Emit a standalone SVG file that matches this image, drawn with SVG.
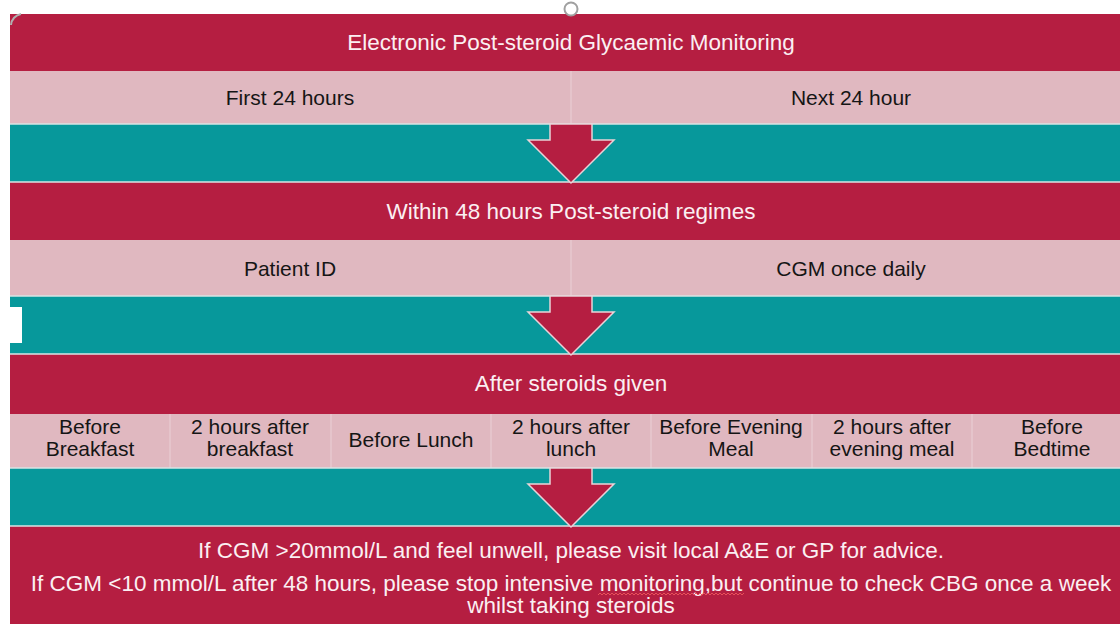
<svg xmlns="http://www.w3.org/2000/svg" width="1120" height="624" viewBox="0 0 1120 624">
  <style>
    .red { fill: #B51E41; }
    .pink { fill: #E0B8C0; }
    .teal { fill: #07989B; }
    .div { stroke: #EAD0D6; stroke-width: 1; }
    .sep { stroke: #D9E4E4; stroke-width: 1.5; }
    .wt { font-family: "Liberation Sans", Arial, sans-serif; font-size: 22.5px; fill: #FBEFF2; text-anchor: middle; }
    .bt { font-family: "Liberation Sans", Arial, sans-serif; font-size: 21px; fill: #151515; text-anchor: middle; }
    .arrow { fill: #B51E41; stroke: #E9D3D8; stroke-width: 1.5; stroke-linejoin: miter; }
  </style>
  <defs>
    <path id="arrowShape" d="M-21,0 L21,0 L21,16 L43,16 L0,59 L-43,16 L-21,16 Z"/>
  </defs>
  <rect x="0" y="0" width="1120" height="624" fill="#FFFFFF"/>

  <g id="title">
    <rect class="red" x="10" y="14" width="1110" height="57"/>
    <text class="wt" x="571" y="50">Electronic Post-steroid Glycaemic Monitoring</text>
  </g>
  <g id="first24">
    <rect class="pink" x="10" y="71" width="561" height="53"/>
    <text class="bt" x="290" y="105">First 24 hours</text>
  </g>
  <g id="next24">
    <rect class="pink" x="571" y="71" width="549" height="53"/>
    <line class="div" x1="571" y1="71" x2="571" y2="124"/>
    <text class="bt" x="851" y="105">Next 24 hour</text>
  </g>
  <g id="teal1">
    <rect class="teal" x="10" y="124" width="1110" height="58"/>
  </g>
  <g id="within48">
    <rect class="red" x="10" y="182" width="1110" height="58"/>
    <text class="wt" x="571" y="219">Within 48 hours Post-steroid regimes</text>
  </g>
  <g id="patientId">
    <rect class="pink" x="10" y="240" width="561" height="56"/>
    <text class="bt" x="290" y="276">Patient ID</text>
  </g>
  <g id="cgmDaily">
    <rect class="pink" x="571" y="240" width="549" height="56"/>
    <line class="div" x1="571" y1="240" x2="571" y2="296"/>
    <text class="bt" x="851" y="276">CGM once daily</text>
  </g>
  <g id="teal2">
    <rect class="teal" x="10" y="296" width="1110" height="58"/>
    <rect x="10" y="307" width="12" height="36" fill="#FFFFFF"/>
  </g>
  <g id="afterSteroids">
    <rect class="red" x="10" y="354" width="1110" height="60"/>
    <text class="wt" x="571" y="391">After steroids given</text>
  </g>
  <g id="times">
    <rect class="pink" x="10" y="414" width="1110" height="54"/>
    <line class="div" x1="170" y1="414" x2="170" y2="468"/>
    <line class="div" x1="331" y1="414" x2="331" y2="468"/>
    <line class="div" x1="491" y1="414" x2="491" y2="468"/>
    <line class="div" x1="651" y1="414" x2="651" y2="468"/>
    <line class="div" x1="812" y1="414" x2="812" y2="468"/>
    <line class="div" x1="972" y1="414" x2="972" y2="468"/>
  </g>
  <g id="beforeBreakfast">
    <text class="bt" x="90" y="434">Before</text>
    <text class="bt" x="90" y="456">Breakfast</text>
  </g>
  <g id="afterBreakfast">
    <text class="bt" x="250" y="434">2 hours after</text>
    <text class="bt" x="250" y="456">breakfast</text>
  </g>
  <g id="beforeLunch">
    <text class="bt" x="411" y="447">Before Lunch</text>
  </g>
  <g id="afterLunch">
    <text class="bt" x="571" y="434">2 hours after</text>
    <text class="bt" x="571" y="456">lunch</text>
  </g>
  <g id="beforeEvening">
    <text class="bt" x="731" y="434">Before Evening</text>
    <text class="bt" x="731" y="456">Meal</text>
  </g>
  <g id="afterEvening">
    <text class="bt" x="892" y="434">2 hours after</text>
    <text class="bt" x="892" y="456">evening meal</text>
  </g>
  <g id="beforeBedtime">
    <text class="bt" x="1052" y="434">Before</text>
    <text class="bt" x="1052" y="456">Bedtime</text>
  </g>
  <g id="teal3">
    <rect class="teal" x="10" y="468" width="1110" height="58"/>
  </g>
  <g id="advice">
    <rect class="red" x="10" y="526" width="1110" height="98"/>
    <text class="wt" x="571" y="558">If CGM &gt;20mmol/L and feel unwell, please visit local A&amp;E or GP for advice.</text>
    <text class="wt" x="571" y="591">If CGM &lt;10 mmol/L after 48 hours, please stop intensive monitoring,but continue to check CBG once a week</text>
    <text class="wt" x="571" y="613">whilst taking steroids</text>
    <path d="M598,595 l2,-2 l2,2 l2,-2 l2,2 l2,-2 l2,2 l2,-2 l2,2 l2,-2 l2,2 l2,-2 l2,2 l2,-2 l2,2 l2,-2 l2,2 l2,-2 l2,2 l2,-2 l2,2 l2,-2 l2,2 l2,-2 l2,2 l2,-2 l2,2 l2,-2 l2,2 l2,-2 l2,2 l2,-2 l2,2 l2,-2 l2,2 l2,-2 l2,2 l2,-2 l2,2 l2,-2 l2,2 l2,-2 l2,2 l2,-2 l2,2 l2,-2 l2,2 l2,-2 l2,2 l2,-2 l2,2 l2,-2 l2,2 l2,-2 l2,2 l2,-2 l2,2 l2,-2 l2,2 l2,-2 l2,2 l2,-2 l2,2 l2,-2 l2,2 l2,-2 l2,2 l2,-2 l2,2 l2,-2 l2,2 l2,-2 l2,2 l2,-2" fill="none" stroke="#E8505A" stroke-width="1"/>
  </g>

  <g id="separators">
    <line class="sep" x1="10" y1="124" x2="1120" y2="124"/>
    <line class="sep" x1="10" y1="182" x2="1120" y2="182"/>
    <line class="sep" x1="10" y1="296" x2="1120" y2="296"/>
    <line class="sep" x1="10" y1="354" x2="1120" y2="354"/>
    <line class="sep" x1="10" y1="468" x2="1120" y2="468"/>
    <line class="sep" x1="10" y1="526" x2="1120" y2="526"/>
  </g>

  <g id="connectors">
    <use href="#arrowShape" class="arrow" transform="translate(571,124)"/>
    <use href="#arrowShape" class="arrow" transform="translate(571,296)"/>
    <use href="#arrowShape" class="arrow" transform="translate(571,468)"/>
  </g>

  <g id="handles">
    <circle cx="571" cy="9" r="6.5" fill="#FFFFFF" stroke="#A0A0A0" stroke-width="2"/>
    <path d="M11,25 A12,12 0 0 1 21,14" fill="none" stroke="#B0B0B0" stroke-width="2"/>
  </g>
</svg>
